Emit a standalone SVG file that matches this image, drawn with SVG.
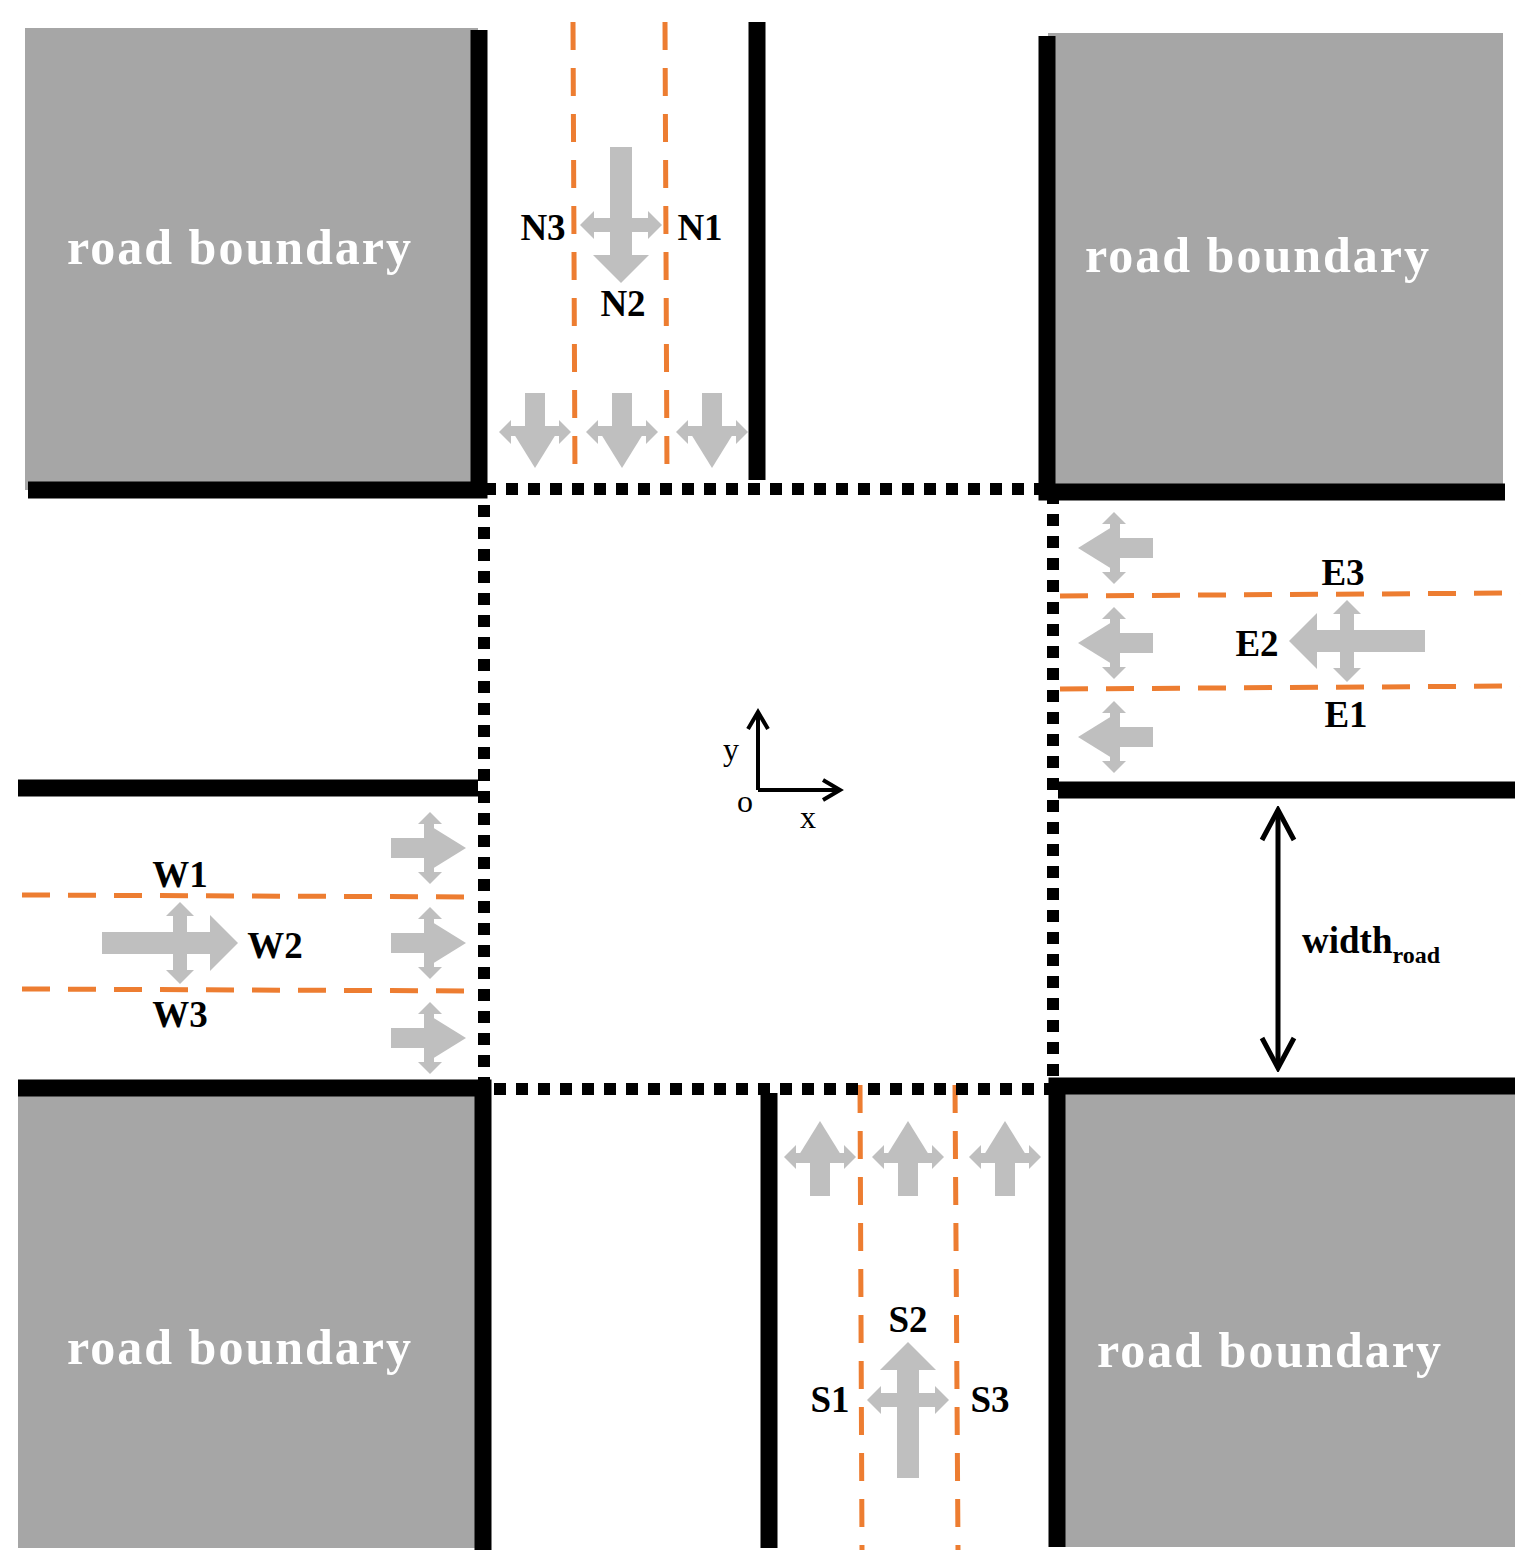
<svg xmlns="http://www.w3.org/2000/svg" width="1535" height="1566" viewBox="0 0 1535 1566">
<style>
.blk{fill:#a6a6a6}
.wall{stroke:#000;stroke-width:17;fill:none}
.lane{stroke:#ed7d31;stroke-width:5;stroke-dasharray:28 18;fill:none}
.dot{stroke:#000;stroke-width:12;stroke-dasharray:12 10;fill:none}
.rb{font-family:"Liberation Serif",serif;font-weight:bold;font-size:50px;letter-spacing:2px;fill:#fff}
.lb{font-family:"Liberation Serif",serif;font-weight:bold;font-size:37px;fill:#000}
.ax{font-family:"Liberation Serif",serif;font-size:32px;fill:#000}
</style>
<defs>
<g id="sa" fill="#bfbfbf">
<rect x="-10" y="-39" width="20" height="33"/>
<polygon points="-26,-6 26,-6 0,36"/>
<rect x="-26" y="-4" width="52" height="8"/>
<polygon points="-36,0 -24,-12 -24,12"/>
<polygon points="36,0 24,-12 24,12"/>
</g>
<g id="ba" fill="#bfbfbf">
<rect x="-11" y="-78" width="22" height="108"/>
<polygon points="-28,30 28,30 0,58"/>
<rect x="-28" y="-7" width="56" height="14"/>
<polygon points="-41,0 -27,-14 -27,14"/>
<polygon points="41,0 27,-14 27,14"/>
</g>
<marker id="ah" viewBox="0 0 24 24" refX="20" refY="12" markerWidth="24" markerHeight="24" markerUnits="userSpaceOnUse" orient="auto-start-reverse">
<path d="M3,2 L20,12 L3,22" fill="none" stroke="#000" stroke-width="4"/>
</marker>
<marker id="ah2" viewBox="0 0 40 40" refX="36" refY="20" markerWidth="40" markerHeight="40" markerUnits="userSpaceOnUse" orient="auto-start-reverse">
<path d="M6,4 L36,20 L6,36" fill="none" stroke="#000" stroke-width="5"/>
</marker>
</defs>
<rect width="1535" height="1566" fill="#fff"/>
<g id="blocks">
<rect class="blk" x="25" y="28" width="453" height="462"/>
<rect class="blk" x="1048" y="33" width="455" height="457"/>
<rect class="blk" x="18" y="1090" width="462" height="458"/>
<rect class="blk" x="1058" y="1090" width="457" height="457"/>
<text class="rb" x="240" y="264" text-anchor="middle">road boundary</text>
<text class="rb" x="1258" y="272" text-anchor="middle">road boundary</text>
<text class="rb" x="240" y="1364" text-anchor="middle">road boundary</text>
<text class="rb" x="1270" y="1367" text-anchor="middle">road boundary</text>
</g>
<g id="lanes">
<line class="lane" x1="573" y1="22" x2="575" y2="480"/>
<line class="lane" x1="665" y1="22" x2="667" y2="480"/>
<line class="lane" x1="1060" y1="596" x2="1520" y2="593"/>
<line class="lane" x1="1060" y1="689" x2="1520" y2="686"/>
<line class="lane" x1="22" y1="895" x2="480" y2="897"/>
<line class="lane" x1="22" y1="989" x2="480" y2="991"/>
<line class="lane" x1="860" y1="1085" x2="862" y2="1550"/>
<line class="lane" x1="955" y1="1085" x2="958" y2="1550"/>
</g>
<g id="walls">
<path class="wall" d="M479,30 V490 H28"/>
<path class="wall" d="M1047,36 V492 H1505"/>
<path class="wall" d="M18,1088 H483 V1550"/>
<path class="wall" d="M1515,1086 H1057 V1547"/>
<line class="wall" x1="757" y1="22" x2="757" y2="480"/>
<line class="wall" x1="18" y1="788" x2="478" y2="788"/>
<line class="wall" x1="1058" y1="790" x2="1515" y2="790"/>
<line class="wall" x1="769" y1="1093" x2="769" y2="1548"/>
</g>
<g id="zone">
<rect class="dot" x="484" y="489" width="569" height="600"/>
</g>
<g id="small-arrows">
<use href="#sa" transform="translate(535,432)"/>
<use href="#sa" transform="translate(622,432)"/>
<use href="#sa" transform="translate(712,432)"/>
<use href="#sa" transform="translate(1114,548) rotate(90)"/>
<use href="#sa" transform="translate(1114,643) rotate(90)"/>
<use href="#sa" transform="translate(1114,737) rotate(90)"/>
<use href="#sa" transform="translate(430,848) rotate(-90)"/>
<use href="#sa" transform="translate(430,943) rotate(-90)"/>
<use href="#sa" transform="translate(430,1038) rotate(-90)"/>
<use href="#sa" transform="translate(820,1157) rotate(180)"/>
<use href="#sa" transform="translate(908,1157) rotate(180)"/>
<use href="#sa" transform="translate(1005,1157) rotate(180)"/>
</g>
<g id="big-arrows">
<use href="#ba" transform="translate(621,225)"/>
<use href="#ba" transform="translate(1347,641) rotate(90)"/>
<use href="#ba" transform="translate(180,943) rotate(-90)"/>
<use href="#ba" transform="translate(908,1400) rotate(180)"/>
</g>
<g id="labels">
<text class="lb" x="543" y="240" text-anchor="middle">N3</text>
<text class="lb" x="700" y="240" text-anchor="middle">N1</text>
<text class="lb" x="623" y="316" text-anchor="middle">N2</text>
<text class="lb" x="1343" y="585" text-anchor="middle">E3</text>
<text class="lb" x="1257" y="656" text-anchor="middle">E2</text>
<text class="lb" x="1346" y="727" text-anchor="middle">E1</text>
<text class="lb" x="180" y="887" text-anchor="middle">W1</text>
<text class="lb" x="275" y="958" text-anchor="middle">W2</text>
<text class="lb" x="180" y="1027" text-anchor="middle">W3</text>
<text class="lb" x="908" y="1332" text-anchor="middle">S2</text>
<text class="lb" x="830" y="1412" text-anchor="middle">S1</text>
<text class="lb" x="990" y="1412" text-anchor="middle">S3</text>
</g>
<g id="connectors" stroke="#000" fill="none">
<path d="M758,790 V712" stroke-width="4" marker-end="url(#ah)"/>
<path d="M758,790 H840" stroke-width="4" marker-end="url(#ah)"/>
<path d="M1278,810 V1068" stroke-width="5" marker-start="url(#ah2)" marker-end="url(#ah2)"/>
</g>
<g id="axis-labels">
<text class="ax" x="731" y="760" text-anchor="middle">y</text>
<text class="ax" x="745" y="812" text-anchor="middle">o</text>
<text class="ax" x="808" y="828" text-anchor="middle">x</text>
<text class="lb" x="1302" y="953">width<tspan font-size="24" dy="10">road</tspan></text>
</g>
</svg>
